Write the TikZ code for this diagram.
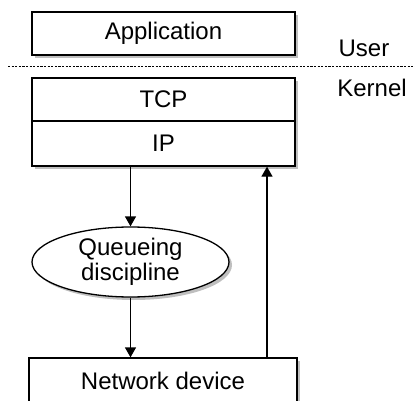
\documentclass[tikz,border=0pt]{standalone}
\usepackage{fontspec}
\setmainfont{Liberation Sans}
\usetikzlibrary{shapes.geometric,arrows.meta,shadows}
\begin{document}
\begin{tikzpicture}[x=1pt,y=-1pt,
  line width=1.3pt,
  shad/.style={drop shadow={shadow xshift=3pt,shadow yshift=-3pt,fill=black,opacity=0.25}},
  layer/.style={draw,fill=white,rectangle,inner sep=0pt,shad,
    font=\fontsize{24}{28}\selectfont},
  qd/.style={draw,fill=white,ellipse,inner sep=0pt,shad,align=center,
    font=\fontsize{24}{25}\selectfont},
  lbl/.style={inner sep=0pt,font=\fontsize{24}{28}\selectfont},
  arr/.style={-{Triangle[width=11pt,length=10pt]}},
  sep/.style={line width=1pt,dash pattern=on 2.2pt off 1.4pt}]
\useasboundingbox (0,0) rectangle (415,401);
\node[layer,minimum width=263pt,minimum height=43pt] (app) at (163.5,33.5) {Application};
\node[layer,minimum width=263pt,minimum height=43pt] (tcp) at (163.5,99.5) {TCP};
\node[layer,minimum width=263pt,minimum height=45pt] (ip) at (163.5,143.5) {IP};
\node[qd,minimum width=197pt,minimum height=70pt] (queue) at (130.5,262) {Queueing\\discipline};
\node[layer,minimum width=268pt,minimum height=46pt] (net) at (163,381) {Network device};
\coordinate (dl) at (8,67);
\coordinate (dr) at (415,67);
\draw[sep] (dl) -- (dr);
\node[lbl] (user) at (364,48) {User};
\node[lbl] (kernel) at (372,88) {Kernel};
\coordinate (upx) at (267,0);
\draw[arr] (queue.north |- ip.south) -- (queue.north);
\draw[arr] (queue.south) -- (queue.south |- net.north);
\draw[arr] (upx |- net.north) -- (upx |- ip.south);
\end{tikzpicture}
\end{document}
